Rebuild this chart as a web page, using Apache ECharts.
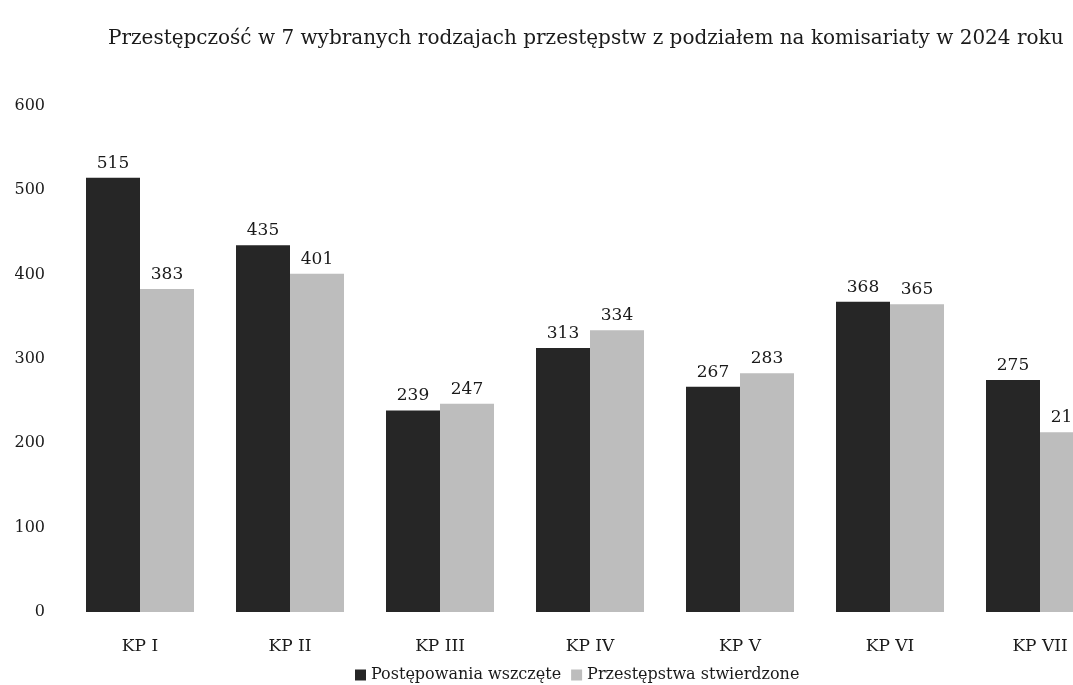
<!DOCTYPE html>
<html>
<head>
<meta charset="utf-8">
<script src="https://cdn.jsdelivr.net/npm/echarts@6/dist/echarts.min.js"></script>
<style>
  html, body { margin: 0; padding: 0; background: #fff; overflow: hidden; }
  /* the scan cuts the last group off at the right edge, so the chart is wider than the window */
  #chart { width: 1125px; height: 685px; }
</style>
</head>
<body>
<div id="chart"></div>
<script>
const categories = ["KP I", "KP II", "KP III", "KP IV", "KP V", "KP VI", "KP VII"];
const wszczete = [515, 435, 239, 313, 267, 368, 275];
const stwierdzone = [383, 401, 247, 334, 283, 365, 213];
const yTicks = { min: 0, max: 600, interval: 100 };

// the scan is stretched sideways, so the wider DejaVu Serif fits the text widths better
const serif = "'DejaVu Serif', 'Liberation Serif', serif";
const darkColor = "#262626";
const lightColor = "#bdbdbd";

const chart = echarts.init(document.getElementById("chart"));

const labelStyle = {
  show: true,
  position: "top",
  distance: 6,
  color: "#1a1a1a",
  fontFamily: serif,
  fontSize: 17,
};

chart.setOption({
  backgroundColor: "#fff",
  animation: false,
  title: {
    text: "Przestępczość w 7 wybranych rodzajach przestępstw z podziałem na komisariaty w 2024 roku",
    left: 103,
    top: 24,
    textStyle: {
      fontFamily: serif,
      fontSize: 20,
      fontWeight: "normal",
      color: "#1a1a1a",
    },
  },
  legend: {
    left: 350,
    top: 662,
    itemWidth: 11,
    itemHeight: 11,
    itemGap: 10,
    icon: "rect",
    textStyle: { fontFamily: serif, fontSize: 16, color: "#1a1a1a" },
    data: ["Postępowania wszczęte", "Przestępstwa stwierdzone"],
  },
  grid: { left: 65, right: 10, top: 106, bottom: 73 },
  xAxis: {
    type: "category",
    data: categories,
    axisLine: { show: false },
    axisTick: { show: false },
    axisLabel: { margin: 26, color: "#1a1a1a", fontFamily: serif, fontSize: 17 },
  },
  yAxis: {
    type: "value",
    min: yTicks.min,
    max: yTicks.max,
    interval: yTicks.interval,
    axisLine: { show: false },
    axisTick: { show: false },
    splitLine: { show: false },
    axisLabel: { margin: 20, color: "#1a1a1a", fontFamily: serif, fontSize: 16 },
  },
  series: [
    {
      name: "Postępowania wszczęte",
      type: "bar",
      data: wszczete,
      barGap: "0%",
      barCategoryGap: "28%",
      itemStyle: { color: darkColor },
      label: labelStyle,
    },
    {
      name: "Przestępstwa stwierdzone",
      type: "bar",
      data: stwierdzone,
      itemStyle: { color: lightColor },
      label: labelStyle,
    },
  ],
});
</script>
</body>
</html>
